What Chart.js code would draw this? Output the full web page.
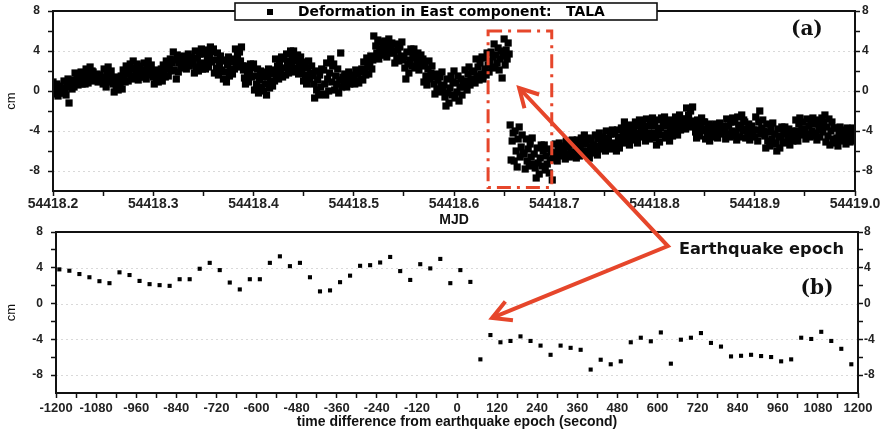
<!DOCTYPE html>
<html>
<head>
<meta charset="utf-8">
<script src="https://cdn.jsdelivr.net/npm/chart.js@4.4.0/dist/chart.umd.min.js"></script>
<style>
  html, body { margin: 0; padding: 0; background: #fff; overflow: hidden; }
  #wrap { position: relative; width: 884px; height: 434px; }
  #wrap canvas { position: absolute; left: 0; }
</style>
</head>
<body>
<div id="wrap">
  <canvas id="eastChart" width="884" height="232" style="top:0px"></canvas>
  <canvas id="epochChart" width="884" height="212" style="top:222px"></canvas>
  <canvas id="marks" width="884" height="434" style="top:0px"></canvas>
</div>
<script>
// (a) east offset in cm, one sample every 0.001 day from MJD 54418.2
var mjdStart = 54418.2;
var mjdStep = 0.001;
var eastCm = [
  0.9, -0.3, 0.3, -0.1, 0.7, -0.5, 0.1, 0.5, -0.2, 0.3,
  -0.2, 1.0, 0.2, -0.4, 0.7, 1.2, -1.2, 0.4, 0.9, 0.2,
  1.1, 0.4, 1.8, 0.8, 1.3, 0.6, 1.6, 1.0, 1.9, 0.7,
  1.8, 1.2, 0.7, 2.2, 1.4, 0.8, 1.7, 2.4, 1.3, 2.0,
  1.9, 1.0, 1.5, 1.2, 1.7, 0.9, 1.3, 1.6, 1.1, 1.4,
  0.7, 2.2, 1.2, 0.4, 1.8, 2.4, 0.9, 1.4, 2.0, 1.1,
  0.7, -0.1, 1.4, 0.3, 0.9, 0.1, 1.1, 0.5, 1.5, 0.2,
  2.1, 1.4, 0.9, 2.5, 1.7, 1.0, 1.9, 2.7, 1.5, 2.3,
  3.0, 1.2, 2.2, 1.6, 2.7, 1.1, 1.9, 2.5, 1.4, 2.1,
  1.4, 2.8, 1.9, 1.2, 2.4, 3.0, 1.6, 2.1, 2.6, 1.8,
  1.4, 0.7, 2.1, 1.1, 1.6, 0.9, 1.9, 1.3, 2.2, 1.0,
  2.6, 1.9, 1.4, 3.0, 2.2, 1.5, 2.4, 3.2, 2.0, 2.8,
  3.9, 2.1, 3.1, 1.2, 3.6, 1.9, 2.8, 3.4, 2.3, 3.0,
  2.4, 3.5, 2.8, 2.2, 3.2, 3.7, 2.5, 2.9, 3.4, 2.7,
  2.9, 1.8, 4.0, 2.4, 3.3, 2.0, 3.7, 2.7, 4.2, 2.2,
  3.7, 2.8, 2.2, 4.1, 3.1, 2.4, 3.5, 4.4, 2.9, 3.9,
  4.2, 1.8, 3.1, 2.3, 3.8, 1.6, 2.7, 3.5, 2.1, 3.0,
  1.2, 3.1, 1.9, 0.9, 2.6, 3.4, 1.5, 2.1, 2.9, 1.7,
  3.2, 2.2, 4.2, 2.7, 3.6, 2.4, 3.9, 3.0, 4.4, 2.5,
  2.1, 1.3, 0.7, 2.5, 1.6, 0.9, 1.9, 2.7, 1.4, 2.3,
  2.7, 0.1, 1.5, 0.7, 2.2, -0.2, 1.1, 2.0, 0.4, 1.4,
  0.0, 1.9, 0.7, -0.4, 1.4, 2.2, 0.3, 0.9, 1.7, 0.5,
  2.1, 1.0, 3.2, 1.6, 2.5, 1.2, 2.9, 1.9, 3.4, 1.4,
  3.2, 2.3, 1.6, 3.7, 2.6, 1.8, 3.0, 4.0, 2.4, 3.5,
  4.0, 1.9, 3.0, 2.3, 3.6, 1.7, 2.7, 3.4, 2.1, 2.9,
  1.0, 2.7, 1.6, 0.7, 2.3, 3.0, 1.2, 1.8, 2.5, 1.5,
  0.7, -0.7, 2.0, 0.1, 1.1, -0.4, 1.6, 0.4, 2.2, -0.3,
  2.1, 0.7, -0.4, 2.8, 1.2, 0.0, 1.8, 3.2, 0.9, 2.5,
  2.7, 0.1, 1.5, 0.7, 2.2, -0.2, 1.1, 3.8, 0.4, 1.4,
  0.6, 1.7, 1.0, 0.4, 1.4, 1.9, 0.7, 1.1, 1.6, 0.9,
  1.5, 0.7, 2.1, 1.0, 1.7, 0.8, 1.9, 1.2, 2.2, 1.1,
  2.9, 2.1, 1.6, 3.3, 2.4, 1.7, 2.7, 3.5, 2.2, 3.1,
  5.5, 3.4, 4.5, 3.8, 5.1, 3.2, 4.2, 4.9, 3.6, 4.4,
  3.6, 5.0, 4.1, 3.4, 4.6, 5.2, 3.8, 4.3, 4.8, 4.0,
  3.8, 2.8, 4.7, 3.3, 4.1, 3.0, 4.4, 3.5, 4.9, 3.1,
  3.4, 2.3, 1.2, 3.9, 2.7, 1.8, 3.1, 4.2, 2.5, 3.6,
  4.2, 2.3, 3.3, 2.7, 3.8, 2.1, 3.0, 3.6, 2.5, 3.2,
  0.9, 2.7, 1.5, 0.6, 2.2, 3.0, 1.2, 1.8, 2.5, 1.4,
  0.7, -0.3, 1.7, 0.2, 1.1, -0.1, 1.4, 0.5, 1.9, 0.0,
  0.6, -0.6, -1.5, 1.2, -0.2, -1.2, 0.3, 1.5, -0.4, 0.9,
  2.0, -0.7, 0.8, -0.1, 1.5, -1.0, 0.4, 1.2, -0.4, 0.7,
  0.4, 2.1, 1.0, 0.1, 1.7, 2.4, 0.6, 1.2, 1.9, 0.9,
  2.0, 0.8, 3.2, 1.5, 2.4, 1.1, 2.8, 1.7, 3.4, 1.2,
  3.3, 2.2, 1.6, 3.8, 2.6, 1.9, 3.0, 3.9, 2.4, 3.4,
  4.7, 2.3, 3.6, 2.8, 4.3, 2.1, 3.2, 4.0, 1.3, 3.5,
  5.2, 2.6, 4.1, 3.2, 4.8, 3.7, -3.4, -6.9, -5.0, -4.2,
  -7.0, -4.0, -6.0, -7.6, -4.8, -3.6, -6.6, -5.6, -4.4, -6.2,
  -6.3, -7.8, -4.8, -7.0, -5.8, -7.5, -5.3, -6.6, -4.7, -7.3,
  -6.3, -7.7, -8.7, -5.7, -7.2, -8.3, -6.7, -5.4, -7.5, -6.0,
  -5.4, -7.9, -6.5, -7.3, -5.8, -8.2, -6.9, -6.1, -8.9, -6.6,
  -6.7, -5.3, -6.2, -7.0, -5.7, -5.2, -6.5, -6.1, -5.5, -6.3,
  -5.9, -6.8, -5.0, -6.3, -5.6, -6.6, -5.3, -6.1, -4.9, -6.5,
  -5.3, -6.1, -6.7, -4.9, -5.8, -6.5, -5.5, -4.7, -6.0, -5.1,
  -4.4, -6.4, -5.3, -6.0, -4.7, -6.7, -5.6, -4.9, -6.2, -5.4,
  -6.0, -4.4, -5.5, -6.4, -4.8, -4.2, -5.8, -5.3, -4.6, -5.6,
  -5.0, -6.0, -4.0, -5.5, -4.7, -5.8, -4.3, -5.2, -3.9, -5.7,
  -4.3, -5.3, -6.0, -3.9, -4.9, -5.7, -4.6, -3.7, -5.2, -4.1,
  -3.1, -5.1, -4.0, -4.7, -3.4, -5.4, -4.3, -3.6, -4.9, -4.1,
  -4.8, -3.1, -4.2, -5.2, -3.5, -2.9, -4.6, -4.0, -3.3, -4.4,
  -3.9, -5.0, -2.8, -4.4, -3.5, -4.8, -3.2, -4.2, -2.7, -4.7,
  -3.5, -4.5, -5.4, -2.9, -4.1, -5.1, -3.7, -2.7, -4.4, -3.2,
  -2.6, -4.7, -3.5, -4.2, -2.9, -5.0, -3.9, -3.2, -4.5, -3.6,
  -4.1, -2.6, -3.6, -4.4, -3.0, -2.4, -3.9, -3.4, -2.8, -3.7,
  -2.8, -3.8, -1.7, -3.2, -2.4, -3.6, -2.0, -3.0, -1.6, -3.5,
  -3.3, -4.1, -4.7, -2.9, -3.8, -4.5, -3.5, -2.7, -4.0, -3.1,
  -3.1, -4.8, -3.8, -4.4, -3.3, -5.0, -4.1, -3.5, -4.6, -3.9,
  -4.4, -3.3, -4.1, -4.7, -3.6, -3.2, -4.3, -3.9, -3.5, -4.1,
  -3.8, -4.8, -2.8, -4.3, -3.5, -4.6, -3.1, -4.0, -2.7, -4.5,
  -3.1, -4.1, -4.9, -2.6, -3.7, -4.6, -3.4, -2.4, -4.0, -2.9,
  -3.1, -4.7, -3.8, -4.3, -3.3, -4.9, -4.0, -3.5, -4.5, -3.9,
  -4.6, -2.6, -3.9, -5.0, -3.1, -2.0, -4.3, -3.7, -2.9, -4.0,
  -4.5, -5.7, -3.3, -5.0, -4.1, -5.5, -3.7, -4.8, -3.2, -5.3,
  -4.3, -5.2, -6.0, -3.8, -4.6, -5.7, -4.5, -3.6, -5.1, -4.0,
  -3.6, -5.2, -4.3, -4.8, -3.8, -5.4, -4.5, -4.0, -5.0, -4.4,
  -4.6, -2.9, -4.0, -5.0, -3.3, -2.7, -4.4, -3.8, -3.1, -4.2,
  -3.8, -4.8, -2.8, -4.3, -3.5, -4.6, -3.1, -4.0, -2.7, -4.5,
  -3.3, -4.2, -4.9, -2.9, -3.9, -4.6, -3.5, -2.7, -4.1, -3.1,
  -2.4, -5.1, -3.6, -4.5, -2.8, -5.4, -4.0, -3.1, -4.8, -3.7,
  -5.2, -3.7, -4.7, -5.5, -4.1, -3.6, -5.0, -4.5, -3.9, -4.8,
  -4.5, -5.3, -3.7, -4.8, -4.3, -5.1, -4.0, -4.7, -3.7, -5.0,
  -4.4
];

// (b) 30 s solutions around the earthquake epoch
var secStart = -1190;
var secStep = 30;
var epochCm = [
  3.82, 3.67, 3.30, 2.94, 2.50, 2.28, 3.49, 3.19, 2.53, 2.17,
  2.06, 1.98, 2.72, 2.72, 3.89, 4.55, 3.74, 2.35, 1.58, 2.72,
  2.72, 4.55, 5.28, 4.18, 4.55, 2.94, 1.36, 1.47, 2.39, 3.12,
  4.22, 4.29, 4.59, 5.21, 3.63, 2.64, 4.40, 3.93, 4.99, 2.28,
  3.74, 2.42, -6.24, -3.52, -4.33, -4.18, -3.67, -4.18, -4.70, -5.73,
  -4.70, -4.95, -5.17, -7.38, -6.28, -6.79, -6.46, -4.33, -3.82, -4.22,
  -3.23, -6.72, -4.04, -3.82, -3.30, -4.40, -4.81, -5.91, -5.84, -5.73,
  -5.87, -5.98, -6.46, -6.24, -3.82, -3.96, -3.16, -4.18, -5.06, -6.79
];

var cmRange = [-10, 8];
var mjdRange = [54418.2, 54419.0];
var secRange = [-1200, 1200];

// annotation anchors, in data units of each panel
var boxMjd = [54418.634, 54418.6975];
var boxCm = [6.0, -9.65];
var tipA = [54418.665, 0.3];
var elbowB = [631, 6.43];
var tipB = [105, -1.6];
var quakeLabelB = [664, 6.0];
var tagA = [54418.952, 6.1];
var tagB = [1077, 1.63];

Chart.defaults.font.family = '"Liberation Sans", Arial, sans-serif';
Chart.defaults.color = '#222';

var INK = '#111';
var RED = '#e6462b';

// fit a bold label to a given pixel width
function fitFont(ctx, text, family, width) {
    ctx.font = 'bold 20px ' + family;
    var size = 20 * width / ctx.measureText(text).width;
    return 'bold ' + size.toFixed(2) + 'px ' + family;
}

var framePlugin = {
    id: 'frame',
    beforeDatasetsDraw: function (chart) {
        var a = chart.chartArea, ctx = chart.ctx, ys = chart.scales.y;
        ctx.save();
        ctx.strokeStyle = 'rgba(0,0,0,0.15)';
        ctx.lineWidth = 1;
        ctx.setLineDash([2, 3]);
        ys.ticks.forEach(function (t) {
            if (t.value % 4 !== 0 || t.value === ys.max) return;
            var y = Math.round(ys.getPixelForValue(t.value)) + 0.5;
            ctx.beginPath();
            ctx.moveTo(a.left, y);
            ctx.lineTo(a.right, y);
            ctx.stroke();
        });
        ctx.restore();
    },
    afterDatasetsDraw: function (chart) {
        var a = chart.chartArea, ctx = chart.ctx;
        ctx.save();
        ctx.strokeStyle = INK;
        ctx.lineWidth = 2;
        ctx.strokeRect(a.left, a.top, a.right - a.left, a.bottom - a.top);
        ctx.restore();
    }
};

// boxed legend sitting on the top frame line
var legendBox = {
    id: 'legendBox',
    afterDraw: function (chart) {
        var ctx = chart.ctx;
        var label = chart.data.datasets[0].label;
        ctx.save();
        ctx.fillStyle = '#fff';
        ctx.fillRect(235, 3, 422, 17);
        ctx.strokeStyle = INK;
        ctx.lineWidth = 1.6;
        ctx.strokeRect(235, 3, 422, 17);
        ctx.fillStyle = '#000';
        ctx.fillRect(267, 9, 6, 6);
        ctx.font = fitFont(ctx, label, '"DejaVu Sans", Verdana, sans-serif', 307);
        ctx.textBaseline = 'middle';
        ctx.fillText(label, 298, 12);
        ctx.restore();
    }
};

function yAxis(position, pad, width, withTitle) {
    return {
        type: 'linear',
        position: position,
        min: cmRange[0],
        max: cmRange[1],
        ticks: {
            stepSize: 2,
            autoSkip: false,
            padding: pad,
            color: '#222',
            font: { size: 12, weight: 'bold' },
            callback: function (v) { return v % 4 === 0 ? String(v) : ''; }
        },
        grid: {
            drawOnChartArea: false,
            drawTicks: true,
            tickLength: 5,
            tickWidth: 1.5,
            tickColor: function (c) {
                return c.tick && c.tick.value === cmRange[0] ? 'rgba(0,0,0,0)' : INK;
            }
        },
        border: { display: false },
        title: {
            display: withTitle,
            text: 'cm',
            color: INK,
            font: { size: 13 },
            padding: { top: 4, bottom: 0 }
        },
        afterFit: function (s) {
            s.width = width;
            // let the layout padding alone decide the top/bottom of the plot
            s.paddingTop = 0;
            s.paddingBottom = 0;
        }
    };
}

function xAxis(range, step, labelFn, title, pad, height, size) {
    return {
        type: 'linear',
        position: 'bottom',
        min: range[0],
        max: range[1],
        ticks: {
            stepSize: step,
            autoSkip: false,
            maxRotation: 0,
            maxTicksLimit: 100,
            padding: pad,
            color: '#222',
            font: { size: size, weight: 'bold' },
            callback: labelFn
        },
        grid: {
            drawOnChartArea: false,
            drawTicks: true,
            tickLength: 5,
            tickWidth: 1.5,
            tickColor: INK
        },
        border: { display: false },
        title: {
            display: true,
            text: title,
            color: INK,
            font: { size: 14, weight: 'bold' },
            padding: { top: 0, bottom: 3 }
        },
        afterFit: function (s) { s.height = height; }
    };
}

var eastPoints = eastCm.map(function (v, i) {
    return { x: mjdStart + i * mjdStep, y: v };
});
var epochPoints = epochCm.map(function (v, i) {
    return { x: secStart + i * secStep, y: v };
});

var eastChart = new Chart(document.getElementById('eastChart'), {
    type: 'scatter',
    data: {
        datasets: [{
            label: 'Deformation in East component:   TALA',
            data: eastPoints,
            pointStyle: 'rect',
            pointRadius: 5.1,
            backgroundColor: '#000',
            borderWidth: 0
        }]
    },
    options: {
        responsive: false,
        animation: false,
        events: [],
        layout: { padding: { top: 11, left: 0, right: 0, bottom: 0 } },
        plugins: { legend: { display: false }, tooltip: { enabled: false } },
        scales: {
            x: xAxis(mjdRange, 0.05, function (v) {
                var h = Math.round(v * 100);
                return h % 10 === 0 ? (h / 100).toFixed(1) : '';
            }, 'MJD', 0, 41, 14),
            y: yAxis('left', 8, 53, true),
            y2: yAxis('right', 2, 29, false)
        }
    },
    plugins: [framePlugin, legendBox]
});

var epochChart = new Chart(document.getElementById('epochChart'), {
    type: 'scatter',
    data: {
        datasets: [{
            label: 'East offset',
            data: epochPoints,
            pointStyle: 'rect',
            pointRadius: 2.9,
            backgroundColor: '#000',
            borderWidth: 0
        }]
    },
    options: {
        responsive: false,
        animation: false,
        events: [],
        layout: { padding: { top: 10, left: 0, right: 0, bottom: 0 } },
        plugins: { legend: { display: false }, tooltip: { enabled: false } },
        scales: {
            x: xAxis(secRange, 60, function (v) {
                return v % 120 === 0 ? String(v) : '';
            }, 'time difference from earthquake epoch (second)', 3, 41, 13),
            y: yAxis('left', 8, 56, true),
            y2: yAxis('right', 1, 26, false)
        }
    },
    plugins: [framePlugin]
});

// red call-outs that span both panels
function drawMarks() {
    var ctx = document.getElementById('marks').getContext('2d');
    var ax = eastChart.scales.x, ay = eastChart.scales.y;
    var bx = epochChart.scales.x, by = epochChart.scales.y;
    var topA = eastChart.canvas.offsetTop, topB = epochChart.canvas.offsetTop;

    function ptA(p) { return [ax.getPixelForValue(p[0]), ay.getPixelForValue(p[1]) + topA]; }
    function ptB(p) { return [bx.getPixelForValue(p[0]), by.getPixelForValue(p[1]) + topB]; }

    ctx.save();
    ctx.strokeStyle = RED;

    // dash-dot box around the jump
    var b0 = ptA([boxMjd[0], boxCm[0]]), b1 = ptA([boxMjd[1], boxCm[1]]);
    ctx.lineWidth = 3;
    ctx.setLineDash([14, 6, 3, 6]);
    ctx.strokeRect(b0[0], b0[1], b1[0] - b0[0], b1[1] - b0[1]);
    ctx.setLineDash([]);

    // two arrows out of one elbow
    var e = ptB(elbowB), t1 = ptA(tipA), t2 = ptB(tipB);
    ctx.lineWidth = 4;
    ctx.lineJoin = 'miter';
    ctx.miterLimit = 20;
    ctx.beginPath();
    ctx.moveTo(t1[0], t1[1]);
    ctx.lineTo(e[0], e[1]);
    ctx.lineTo(t2[0], t2[1]);
    ctx.stroke();

    [[e, t1], [e, t2]].forEach(function (seg) {
        var from = seg[0], to = seg[1];
        var ang = Math.atan2(to[1] - from[1], to[0] - from[0]);
        var len = 21, spread = 0.5;
        ctx.beginPath();
        ctx.moveTo(to[0] - len * Math.cos(ang - spread), to[1] - len * Math.sin(ang - spread));
        ctx.lineTo(to[0], to[1]);
        ctx.lineTo(to[0] - len * Math.cos(ang + spread), to[1] - len * Math.sin(ang + spread));
        ctx.stroke();
    });
    ctx.restore();

    ctx.save();
    ctx.fillStyle = INK;
    ctx.textBaseline = 'middle';
    var q = ptB(quakeLabelB);
    ctx.font = fitFont(ctx, 'Earthquake epoch', '"DejaVu Sans", Verdana, sans-serif', 165);
    ctx.fillText('Earthquake epoch', q[0], q[1]);

    ctx.textAlign = 'center';
    ctx.font = 'bold 20px "DejaVu Serif", Georgia, serif';
    var a = ptA(tagA), b = ptB(tagB);
    ctx.fillText('(a)', a[0], a[1]);
    ctx.fillText('(b)', b[0], b[1]);
    ctx.restore();
}

drawMarks();
</script>
</body>
</html>
